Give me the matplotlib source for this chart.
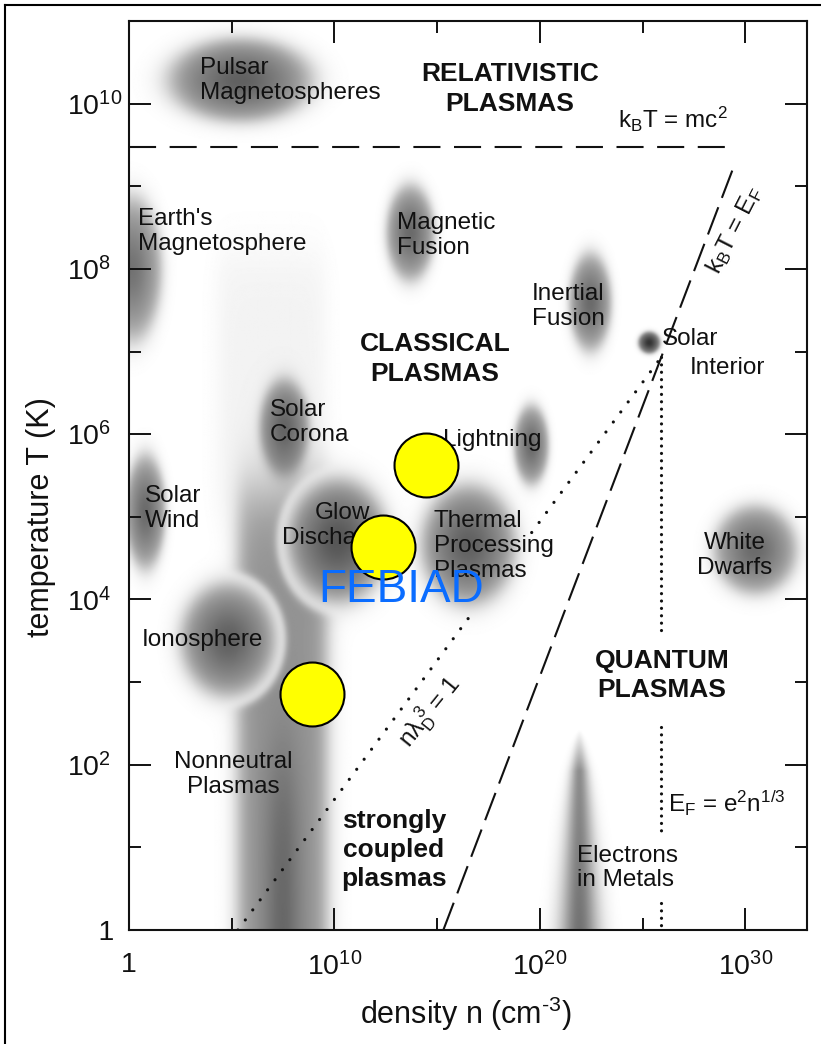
import numpy as np
import matplotlib

matplotlib.use("Agg")
import matplotlib.pyplot as plt
from matplotlib.lines import Line2D

plt.rcParams["font.family"] = ["Liberation Sans", "DejaVu Sans"]
plt.rcParams["mathtext.fontset"] = "custom"
plt.rcParams["mathtext.rm"] = "Liberation Sans"
plt.rcParams["mathtext.it"] = "Liberation Sans:italic"
plt.rcParams["mathtext.bf"] = "Liberation Sans:bold"

# ============================================================
# 数据：log10 n (cm^-3) / log10 T (K)
# ============================================================
regime_names = [
    "pulsar", "earth_mag", "mag_fusion", "inertial_fusion", "solar_interior",
    "solar_corona", "lightning", "solar_wind", "thermal", "white_dwarfs",
]
regime_logn = [5.40, 0.10, 13.67, 22.43, 25.30, 7.54, 19.56, 0.78, 16.50, 30.46]
regime_logT = [10.29, 8.00, 8.44, 7.60, 7.11, 6.08, 5.87, 5.06, 4.66, 4.60]
regime_dn = [3.80, 1.60, 1.27, 1.12, 0.58, 1.31, 0.92, 1.07, 2.50, 2.19]
regime_dT = [0.55, 0.95, 0.63, 0.64, 0.145, 0.64, 0.52, 0.75, 0.79, 0.58]

# 带白边的两团（画在非中性柱之上）
haloed_names = ["ionosphere", "glow"]
haloed_logn = [4.82, 10.12]
haloed_logT = [3.51, 4.71]
haloed_dn = [2.53, 2.68]
haloed_dT = [0.75, 0.82]

# 非中性等离子体竖柱 / 金属电子尖峰
nonneutral_logn = (5.3, 9.6)
nonneutral_logT_top = 5.3
metals_logn = 21.9
metals_logT_top = 2.42
metals_halfwidth = 1.0

# 分界线
mc2_logT = 9.48
mc2_logn = [0.0, 29.0]
fermi_logn = [15.3, 29.5]
fermi_logT = [0.0, 9.28]
debye_logn = [5.3, 16.6, 19.6, 25.9]
debye_logT = [0.0, 3.80, 4.81, 6.93]
degenerate_logn = 25.9
degenerate_segments = [(6.93, 3.58), (2.46, 1.15), (0.33, 0.0)]

# FEBIAD 工作点
febiad_logn = [14.45, 12.36, 8.91]
febiad_logT = [5.63, 4.64, 2.86]

x_major = [0, 10, 20, 30]
x_labels = ["1", r"$\mathregular{10^{10}}$", r"$\mathregular{10^{20}}$", r"$\mathregular{10^{30}}$"]
y_major = [0, 2, 4, 6, 8, 10]
y_labels = ["    1", r"$\mathregular{10^{2}}$", r"$\mathregular{10^{4}}$",
            r"$\mathregular{10^{6}}$", r"$\mathregular{10^{8}}$", r"$\mathregular{10^{10}}$"]

# 样式
blob_shade = [0.62, 0.55, 0.58, 0.58, 0.8, 0.58, 0.58, 0.58, 0.62, 0.58]
haloed_shade = [0.62, 0.66]
XMAX, YMAX = 33.0, 11.0


# ============================================================
# 灰色区域（像扫描图里的喷枪阴影）
# ============================================================
def sig(z):
    return 1.0 / (1.0 + np.exp(-z))


gx = np.linspace(0, XMAX, 700)
gy = np.linspace(0, YMAX, 920)
N, T = np.meshgrid(gx, gy)
shade = np.zeros_like(N)


def add(b):
    global shade
    shade = 1 - (1 - shade) * (1 - b)


def blob(n0, t0, an, at, peak):
    r = np.hypot((N - n0) / an, (T - t0) / at)
    return peak * (0.65 * sig((0.9 - r) / 0.1) + 0.35 * np.exp(-3 * r * r)), r


# 上方很淡的底色
add(0.05 * sig((N - 4.3) / 0.3) * sig((9.5 - N) / 0.3) * sig((8.2 - T) / 0.2) * sig((T - 5.0) / 0.2))

# 非中性竖柱
lo, hi = nonneutral_logn
mid, hw = (lo + hi) / 2, (hi - lo) / 2
col = 0.42 * sig((hw - np.abs(N - mid)) / 0.25) * sig((nonneutral_logT_top - T) / 0.25)
core = 0.3 * np.exp(-((N - mid) / 0.9) ** 2) * sig((2.0 - T) / 0.45)
add(col)
add(core)

# 金属中的电子
w = metals_halfwidth * np.sqrt(np.clip((metals_logT_top - T) / metals_logT_top, 0, 1)) + 1e-3
spike = 0.55 * np.exp(-1.1 * ((N - metals_logn) / w) ** 2) * np.clip((metals_logT_top - T) / 0.5, 0, 1)
spike *= 0.75 + 0.25 * np.clip(1 - T / metals_logT_top, 0, 1)
add(spike)

for n0, t0, an, at, pk in zip(haloed_logn, haloed_logT, haloed_dn, haloed_dT, haloed_shade):
    b, r = blob(n0, t0, an, at, pk)
    shade = shade * (1 - sig((1.1 - r) / 0.04))
    add(b)

for n0, t0, an, at, pk in zip(regime_logn, regime_logT, regime_dn, regime_dT, blob_shade):
    b, _ = blob(n0, t0, an, at, pk)
    add(b)

# ============================================================
# 画图
# ============================================================
fig = plt.figure(figsize=(8.21, 10.44), dpi=100)
ax = fig.add_axes([129 / 821, 1 - 930 / 1044, 678 / 821, 909 / 1044])
ax.imshow(shade, origin="lower", extent=[0, XMAX, 0, YMAX], cmap="gray_r",
          vmin=0, vmax=1, aspect="auto", interpolation="bilinear", zorder=0)

ink = "#111111"
ax.plot(mc2_logn, [mc2_logT, mc2_logT], color=ink, lw=1.5, dashes=(13, 6.5), zorder=2)
ax.plot(fermi_logn, fermi_logT, color=ink, lw=1.5, dashes=(14, 4.8), zorder=2)
ax.plot(debye_logn[:2], debye_logT[:2], color=ink, lw=2.3, dashes=(0.01, 3.9),
        dash_capstyle="round", zorder=2)
ax.plot(debye_logn[2:], debye_logT[2:], color=ink, lw=2.3, dashes=(0.01, 3.9),
        dash_capstyle="round", zorder=2)
for t0, t1 in degenerate_segments:
    ax.plot([degenerate_logn] * 2, [t0, t1], color=ink, lw=2.3, dashes=(0.01, 2.3),
            dash_capstyle="round", zorder=2)

LBL = 17.5
BIG = 19


def label(x, y, s, ha="left", bold=False, size=None, ls=1.17, **kw):
    ax.text(x, y, s, ha=ha, va="center", ma=ha if ha != "center" else "center",
            fontsize=size or (BIG if bold else LBL), fontweight="bold" if bold else "normal",
            linespacing=ls, color=ink, zorder=4, **kw)


label(3.45, 10.28, "Pulsar\nMagnetospheres")
label(18.54, 10.18, "RELATIVISTIC\nPLASMAS", ha="center", bold=True, ls=1.3)
ax.text(23.8, 9.71, r"k$_\mathregular{B}$T = mc$^\mathregular{2}$", ha="left", va="baseline",
        fontsize=LBL, color=ink, zorder=4)
label(0.44, 8.45, "Earth's\nMagnetosphere")
label(13.04, 8.40, "Magnetic\nFusion")
label(19.61, 7.55, "Inertial\nFusion")
label(14.89, 6.91, "CLASSICAL\nPLASMAS", ha="center", bold=True, ls=1.3)
label(25.94, 7.15, "Solar")
label(27.30, 6.80, "Interior")
label(6.86, 6.14, "Solar\nCorona")
label(15.28, 5.93, "Lightning")
label(0.78, 5.10, "Solar\nWind")
label(10.41, 4.89, "Glow\nDischarges", ha="center")
label(14.84, 4.65, "Thermal\nProcessing\nPlasmas")
label(29.49, 4.53, "White\nDwarfs", ha="center")
label(0.63, 3.51, "Ionosphere")
label(5.06, 1.88, "Nonneutral\nPlasmas", ha="center")
label(25.94, 3.08, "QUANTUM\nPLASMAS", ha="center", bold=True, ls=1.3)
ax.text(26.23, 1.43, r"E$_\mathregular{F}$ = e$^\mathregular{2}$n$^\mathregular{1/3}$",
        ha="left", va="baseline", fontsize=LBL, color=ink, zorder=4)
label(12.9, 0.97, "strongly\ncoupled\nplasmas", ha="center", bold=True, ls=1.25)
label(21.8, 0.75, "Electrons\nin Metals")
ax.text(29.49, 8.47, r"k$_\mathregular{B}$T = E$_\mathregular{F}$", ha="center", va="center",
        rotation=63, rotation_mode="anchor", fontsize=LBL, color=ink, zorder=4)
ax.text(14.65, 2.64, r"$\mathregular{n\lambda_D^{\ 3}}$ = 1", ha="center", va="center",
        rotation=51, rotation_mode="anchor", fontsize=LBL, color=ink, zorder=4)

# FEBIAD 标记
ax.scatter(febiad_logn, febiad_logT, s=2120, color="#ffff00", edgecolor="black",
           linewidth=1.5, zorder=6)
ax.text(13.24, 4.12, "FEBIAD", ha="center", va="center", fontsize=33,
        color="#0a6cff", zorder=7)

ax.set_xlim(0, XMAX)
ax.set_ylim(0, YMAX)
ax.set_xticks(x_major)
ax.set_xticklabels(x_labels)
ax.set_xticks([5, 15, 25], minor=True)
ax.set_yticks(y_major)
ax.set_yticklabels(y_labels)
ax.set_yticks([1, 3, 5, 7, 9], minor=True)
ax.tick_params(which="both", direction="in", top=True, right=True, width=1.4,
               color=ink, labelsize=20.5, labelcolor=ink)
ax.tick_params(which="major", length=16)
ax.tick_params(which="minor", length=8.5)
ax.tick_params(axis="x", pad=16)
ax.tick_params(axis="y", pad=44.6)
plt.setp(ax.get_yticklabels(), ha="left")
for sp in ax.spines.values():
    sp.set_linewidth(1.5)
    sp.set_color(ink)

ax.set_xlabel(r"density n (cm$^{\text{-3}}$)", fontsize=22, color=ink)
ax.xaxis.set_label_coords(0.497, -0.0715)
ax.set_ylabel("temperature T (K)", fontsize=22, color=ink)
ax.yaxis.set_label_coords(-0.108, 0.454)

# 幻灯片边框（左、上）
fig.add_artist(Line2D([5 / 821, 5 / 821], [0, 1 - 5 / 1044], color="k", lw=1.5,
                      transform=fig.transFigure))
fig.add_artist(Line2D([5 / 821, 1], [1 - 5 / 1044] * 2, color="k", lw=1.5,
                      transform=fig.transFigure))

fig.savefig("out.png", dpi=100, facecolor="white")
